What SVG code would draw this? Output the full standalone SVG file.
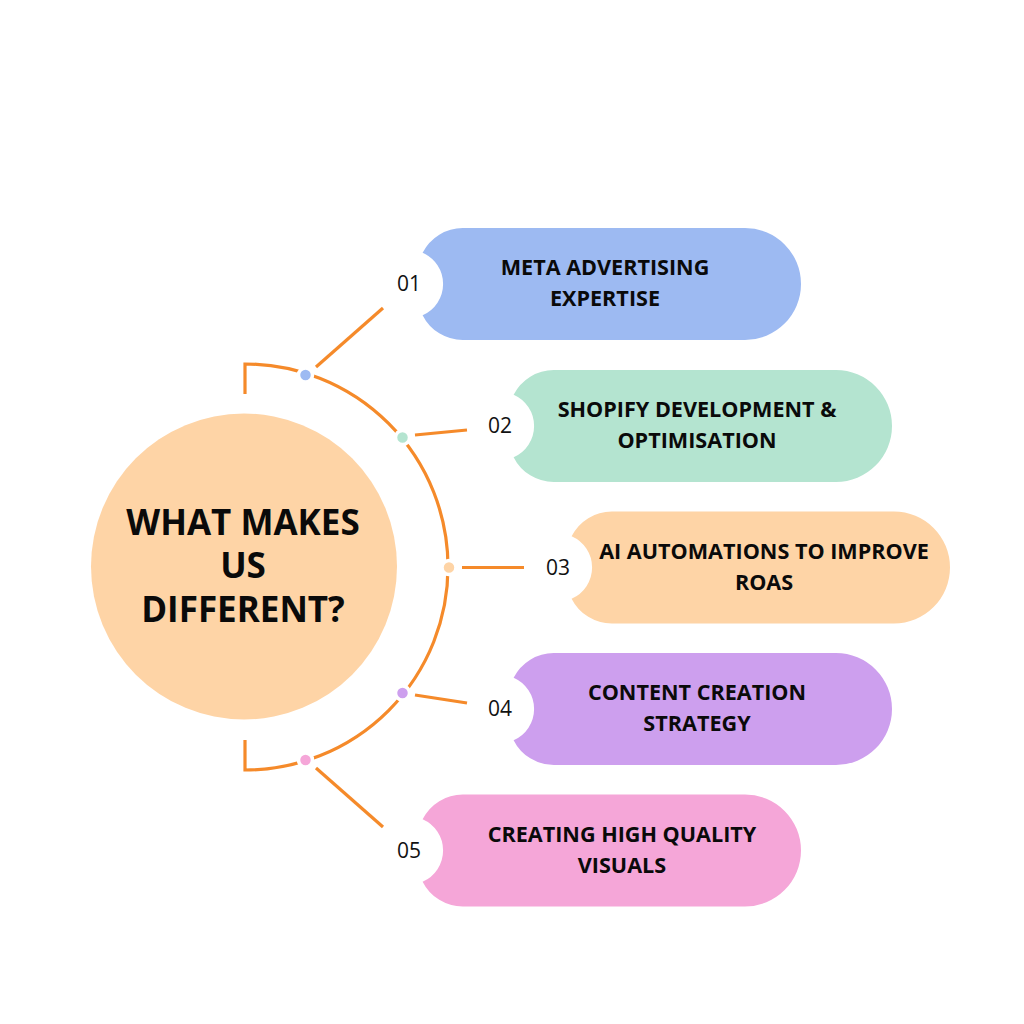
<svg xmlns="http://www.w3.org/2000/svg" xmlns:xlink="http://www.w3.org/1999/xlink" width="1024" height="1024" viewBox="0 0 1024 1024">
  <style>
    .conn { fill: none; stroke: #f58a2a; stroke-width: 3.2; stroke-linecap: butt; }
    .dot { stroke: #ffffff; stroke-width: 3.5; }
    .num { font-family: "Open Sans", "DejaVu Sans", sans-serif; font-size: 21px; fill: #111111; text-anchor: middle; }
    .lbl { font-family: "Open Sans", "Liberation Sans", sans-serif; font-weight: 700; font-size: 21.6px; fill: #0a0a0a; text-anchor: middle; }
    .title { font-family: "Open Sans", "Liberation Sans", sans-serif; font-weight: 700; font-size: 35px; fill: #0a0a0a; text-anchor: middle; }
  </style>
  <defs>
    <path id="pill" d="M13.6,-31.2 A45,45 0 0 1 54,-56 H336 A56,56 0 0 1 336,56 H54 A45,45 0 0 1 13.6,31.2 A34,34 0 0 0 13.6,-31.2 Z"/>
  </defs>
  <rect width="1024" height="1024" fill="#ffffff"/>

  <g id="connectors">
    <path class="conn" d="M245,394 V364 A203,203 0 0 1 245,770 V740"/>
    <line class="conn" x1="316" y1="367" x2="383" y2="308"/>
    <line class="conn" x1="415" y1="435" x2="467" y2="430"/>
    <line class="conn" x1="462" y1="567.5" x2="524" y2="567.5"/>
    <line class="conn" x1="415" y1="695" x2="467" y2="703"/>
    <line class="conn" x1="316" y1="768" x2="383" y2="827"/>
  </g>

  <g id="dots">
    <circle class="dot" cx="305.5" cy="375" r="7" fill="#9dbaf2"/>
    <circle class="dot" cx="402.5" cy="437.5" r="7" fill="#b4e4d0"/>
    <circle class="dot" cx="449" cy="567.5" r="7" fill="#fed4a6"/>
    <circle class="dot" cx="402.5" cy="693" r="7" fill="#cd9fee"/>
    <circle class="dot" cx="305.5" cy="760" r="7" fill="#f5a6d8"/>
  </g>

  <g id="center">
    <circle cx="244" cy="566.5" r="153" fill="#fed4a6"/>
    <text class="title" x="243" y="535">WHAT MAKES</text>
    <text class="title" x="243" y="578">US</text>
    <text class="title" x="243" y="622">DIFFERENT?</text>
  </g>

  <g id="item1" transform="translate(409,284)">
    <use xlink:href="#pill" fill="#9dbaf2"/>
    <text class="num" x="0" y="7">01</text>
    <text class="lbl" x="196" y="-9">META ADVERTISING</text>
    <text class="lbl" x="196" y="22">EXPERTISE</text>
  </g>

  <g id="item2" transform="translate(500,426)">
    <use xlink:href="#pill" fill="#b4e4d0"/>
    <text class="num" x="0" y="7">02</text>
    <text class="lbl" x="197" y="-9">SHOPIFY DEVELOPMENT &amp;</text>
    <text class="lbl" x="197" y="22">OPTIMISATION</text>
  </g>

  <g id="item3" transform="translate(558,567.5)">
    <use xlink:href="#pill" fill="#fed4a6"/>
    <text class="num" x="0" y="7">03</text>
    <text class="lbl" x="206" y="-9">AI AUTOMATIONS TO IMPROVE</text>
    <text class="lbl" x="206" y="22">ROAS</text>
  </g>

  <g id="item4" transform="translate(500,709)">
    <use xlink:href="#pill" fill="#cd9fee"/>
    <text class="num" x="0" y="7">04</text>
    <text class="lbl" x="197" y="-9">CONTENT CREATION</text>
    <text class="lbl" x="197" y="22">STRATEGY</text>
  </g>

  <g id="item5" transform="translate(409,850.5)">
    <use xlink:href="#pill" fill="#f5a6d8"/>
    <text class="num" x="0" y="7">05</text>
    <text class="lbl" x="213" y="-9">CREATING HIGH QUALITY</text>
    <text class="lbl" x="213" y="22">VISUALS</text>
  </g>
</svg>
